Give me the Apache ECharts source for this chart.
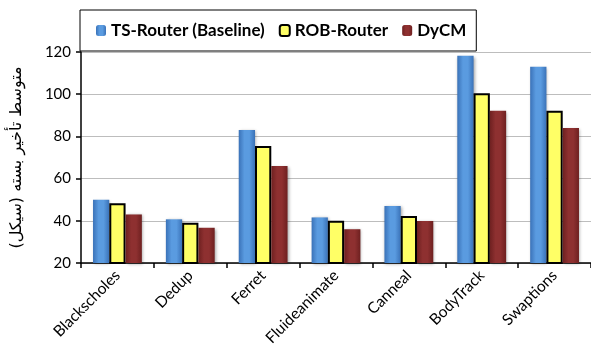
<!DOCTYPE html>
<html>
<head>
<meta charset="utf-8">
<script src="https://cdn.jsdelivr.net/npm/echarts@6/dist/echarts.min.js"></script>
<style>
html,body{margin:0;padding:0;background:#fff;}
#main{width:591px;height:363px;}
</style>
</head>
<body>
<div id="main"></div>
<script>
// 数据
var categories = ['Blackscholes', 'Dedup', 'Ferret', 'Fluideanimate', 'Canneal', 'BodyTrack', 'Swaptions'];
var tsRouter = [50, 40.7, 83, 41.6, 47, 118.2, 113];
var robRouter = [48.3, 39.1, 75.4, 40, 42.3, 100.4, 92.2];
var dycm = [43, 36.7, 66, 36, 39.9, 92.2, 84];
var seriesNames = ['TS-Router (Baseline)', 'ROB-Router', 'DyCM'];
var yTicks = [20, 40, 60, 80, 100, 120];

function grad(edge, mid) {
    return new echarts.graphic.LinearGradient(0, 0, 1, 0, [
        {offset: 0, color: edge},
        {offset: 0.35, color: mid},
        {offset: 0.65, color: mid},
        {offset: 1, color: edge}
    ]);
}

var myChart = echarts.init(document.getElementById('main'));
myChart.setOption({
    animation: false,
    textStyle: {fontFamily: 'Lato'},
    legend: {
        top: 10,
        left: 80,
        itemWidth: 10,
        itemHeight: 11,
        itemGap: 14,
        padding: [12, 10, 12, 16],
        borderColor: '#000',
        borderWidth: 1,
        textStyle: {fontSize: 17, fontWeight: 'bold', color: '#000', fontFamily: 'Lato'},
        data: seriesNames
    },
    grid: {left: 81, top: 52, width: 513, bottom: 100},
    xAxis: {
        type: 'category',
        data: categories,
        axisLine: {lineStyle: {color: '#000', width: 1.5}},
        axisTick: {show: true, length: 5, lineStyle: {color: '#000', width: 1.5}},
        axisLabel: {rotate: 45, fontSize: 15.5, color: '#000', margin: 10, interval: 0}
    },
    yAxis: {
        type: 'value',
        min: yTicks[0],
        max: yTicks[yTicks.length - 1],
        interval: 20,
        name: 'متوسط تأخیر بسته (سیکل)',
        nameLocation: 'middle',
        nameGap: 56,
        nameTextStyle: {fontSize: 16, color: '#000', fontFamily: 'DejaVu Sans'},
        axisLine: {show: true, lineStyle: {color: '#000', width: 1.5}},
        axisTick: {show: true, length: 5, lineStyle: {color: '#000', width: 1.5}},
        axisLabel: {fontSize: 15, color: '#000', margin: 10},
        splitLine: {lineStyle: {color: '#bdbdbd', width: 1}}
    },
    series: [
        {
            name: seriesNames[0],
            type: 'bar',
            data: tsRouter,
            barGap: '0%',
            barCategoryGap: '33%',
            itemStyle: {color: grad('#3a72b8', '#5a9be0'), shadowBlur: 3, shadowColor: 'rgba(0,0,0,0.35)', shadowOffsetX: 1, shadowOffsetY: 1}
        },
        {
            name: seriesNames[1],
            type: 'bar',
            data: robRouter,
            itemStyle: {color: '#ffff66', borderColor: '#000', borderWidth: 2}
        },
        {
            name: seriesNames[2],
            type: 'bar',
            data: dycm,
            itemStyle: {color: grad('#6e2020', '#8e3030'), shadowBlur: 3, shadowColor: 'rgba(0,0,0,0.35)', shadowOffsetX: 1, shadowOffsetY: 1}
        }
    ]
});
</script>
</body>
</html>
